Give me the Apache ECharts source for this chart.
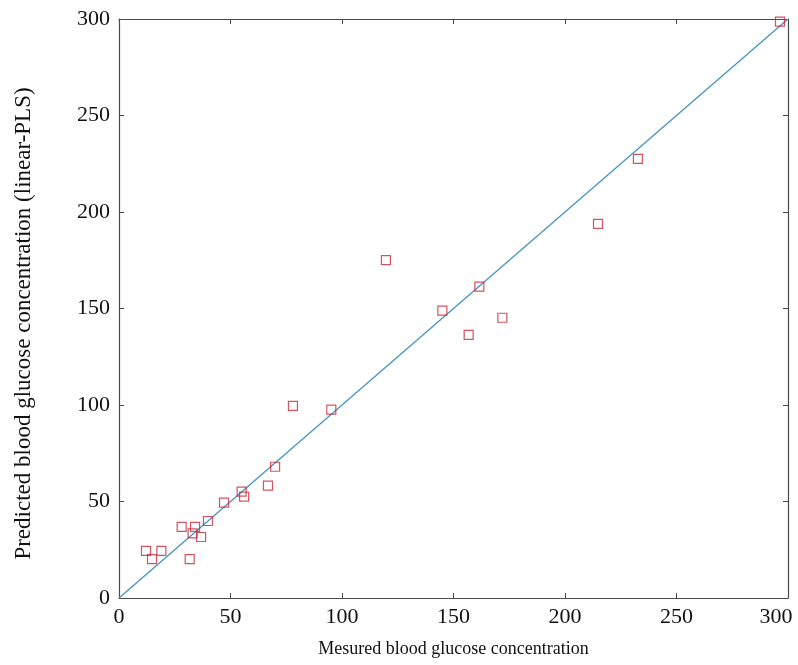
<!DOCTYPE html>
<html>
<head>
<meta charset="utf-8">
<script src="https://cdn.jsdelivr.net/npm/echarts@6/dist/echarts.min.js"></script>
<style>
  html, body { margin: 0; padding: 0; background: #fff; }
  #chart { width: 798px; height: 665px; }
</style>
</head>
<body>
<div id="chart"></div>
<script>
const measured = [12.1, 14.8, 19.0, 28.1, 31.7, 33.0, 34.1, 36.8, 39.9, 47.1, 55.0, 56.1,
  66.8, 70.0, 78.0, 95.2, 119.7, 145.0, 156.8, 161.6, 171.9, 214.8, 232.7, 296.4];
const predicted = [24.4, 20.1, 24.4, 36.9, 20.1, 33.5, 36.9, 31.6, 39.9, 49.4, 55.1, 52.5,
  58.2, 68.0, 99.5, 97.6, 175.1, 148.9, 136.3, 161.3, 145.2, 193.8, 227.5, 298.6];
const identityLine = [[0, 0], [300, 300]];

const font = "Liberation Serif";
const axisColor = "#4a4a4a";

const chart = echarts.init(document.getElementById("chart"));

const baseAxis = {
  min: 0,
  max: 300,
  interval: 50,
  axisLine: { show: true, onZero: false, lineStyle: { color: axisColor, width: 1.2 } },
  axisTick: { show: true, inside: true, length: 5, lineStyle: { color: axisColor } },
  splitLine: { show: false }
};

chart.setOption({
  animation: false,
  backgroundColor: "#fff",
  grid: { left: 119, right: 10, top: 19, bottom: 67, outerBoundsMode: "none" },
  xAxis: [
    Object.assign({}, baseAxis, {
      type: "value",
      position: "bottom",
      name: "Mesured blood glucose concentration",
      nameLocation: "middle",
      nameGap: 42,
      nameTextStyle: { fontFamily: font, fontSize: 18, color: "#111" },
      axisLabel: {
        fontFamily: font, fontSize: 22, color: "#111", margin: 8,
        // the last label sits a little left of the corner, as in the source
        formatter: v => (v === 300 ? "{m|300}" : String(v)),
        rich: { m: { fontFamily: font, fontSize: 22, color: "#111", padding: [0, 24, 0, 0] } }
      }
    }),
    Object.assign({}, baseAxis, {
      type: "value",
      position: "top",
      axisLabel: { show: false }
    })
  ],
  yAxis: [
    Object.assign({}, baseAxis, {
      type: "value",
      position: "left",
      name: "Predicted blood glucose concentration (linear-PLS)",
      nameLocation: "middle",
      nameGap: 84,
      nameTextStyle: { fontFamily: font, fontSize: 23, color: "#111", padding: [0, 30, 0, 0] },
      axisLabel: { fontFamily: font, fontSize: 22, color: "#111", margin: 9 }
    }),
    Object.assign({}, baseAxis, {
      type: "value",
      position: "right",
      axisLabel: { show: false }
    })
  ],
  series: [
    {
      type: "line",
      data: identityLine,
      showSymbol: false,
      lineStyle: { color: "#4494c0", width: 1.3 },
      z: 2
    },
    {
      type: "scatter",
      data: measured.map((x, i) => [x, predicted[i]]),
      symbol: "rect",
      symbolSize: 9,
      itemStyle: { color: "rgba(255,255,255,0)", borderColor: "#c8283a", borderWidth: 1.2 },
      z: 3
    }
  ]
});
</script>
</body>
</html>
